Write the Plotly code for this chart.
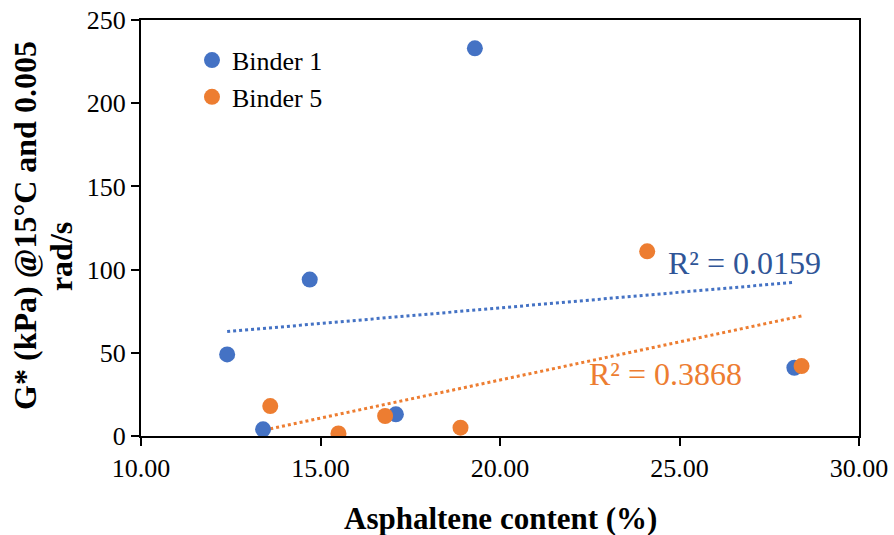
import numpy as np
import plotly.graph_objects as go

b1_x = [12.4, 13.4, 14.7, 17.1, 19.3, 28.2]
b1_y = [49, 4, 94, 13, 233, 41]
b5_x = [13.6, 15.5, 16.8, 18.9, 24.1, 28.4]
b5_y = [18, 1.5, 12, 5, 111, 42]
r2_labels = ["R² = 0.0159", "R² = 0.3868"]
y_title_lines = ["G* (kPa) @15°C and 0.005", "rad/s"]
x_title = "Asphaltene content (%)"

BLUE = "#4472C4"
ORANGE = "#ED7D31"
FONT = "Liberation Serif"

fig = go.Figure()

def trend(xs, ys):
    m, c = np.polyfit(xs, ys, 1)
    xx = np.array([min(xs), max(xs)])
    return xx, m * xx + c

tx, ty = trend(b1_x, b1_y)
fig.add_trace(go.Scatter(x=tx, y=ty, mode="lines", line=dict(color=BLUE, width=3, dash="dot"),
                         showlegend=False, hoverinfo="skip"))
tx, ty = trend(b5_x, b5_y)
fig.add_trace(go.Scatter(x=tx, y=ty, mode="lines", line=dict(color=ORANGE, width=3, dash="dot"),
                         showlegend=False, hoverinfo="skip"))

fig.add_trace(go.Scatter(x=b1_x, y=b1_y, mode="markers", name="Binder 1",
                         marker=dict(color=BLUE, size=16)))
fig.add_trace(go.Scatter(x=b5_x, y=b5_y, mode="markers", name="Binder 5",
                         marker=dict(color=ORANGE, size=16)))

fig.add_annotation(x=26.82, y=104, text=r2_labels[0], showarrow=False,
                   font=dict(family=FONT, size=32, color="#2F5597"))
fig.add_annotation(x=24.6, y=37.5, text=r2_labels[1], showarrow=False,
                   font=dict(family=FONT, size=32, color=ORANGE))

# y-axis title (two lines, as in the reference)
fig.add_annotation(xref="paper", yref="paper", x=0, y=0.505, xshift=-116,
                   xanchor="center", yanchor="middle",
                   text="<b>" + y_title_lines[0] + "</b>", textangle=-90, showarrow=False,
                   font=dict(family=FONT, size=32, color="black"))
fig.add_annotation(xref="paper", yref="paper", x=0, y=0.43, xshift=-80,
                   xanchor="center", yanchor="middle",
                   text="<b>" + y_title_lines[1] + "</b>", textangle=-90, showarrow=False,
                   font=dict(family=FONT, size=32, color="black"))
# x-axis title
fig.add_annotation(xref="paper", yref="paper", x=0.5, y=0, yshift=-82,
                   xanchor="center", yanchor="middle",
                   text="<b>" + x_title + "</b>", showarrow=False,
                   font=dict(family=FONT, size=31, color="black"))

fig.update_layout(
    width=894, height=535,
    margin=dict(l=141, r=35, t=20, b=99, autoexpand=False),
    plot_bgcolor="white", paper_bgcolor="white",
    font=dict(family=FONT, size=26, color="black"),
    legend=dict(x=0.071, y=0.96, xanchor="left", yanchor="top",
                bgcolor="rgba(0,0,0,0)", font=dict(family=FONT, size=26),
                itemwidth=30, tracegroupgap=0),
    xaxis=dict(range=[10, 30], dtick=5, tickformat=".2f", showgrid=False, zeroline=False,
               showline=True, linecolor="black", linewidth=2, mirror=True,
               ticks="outside", ticklen=8, tickwidth=2, tickcolor="black"),
    yaxis=dict(range=[0, 250], dtick=50, showgrid=False, zeroline=False,
               showline=True, linecolor="black", linewidth=2, mirror=True,
               ticks="outside", ticklen=8, tickwidth=2, tickcolor="black"),
)

fig.write_html("out.html", config={"displayModeBar": False},
               post_script="document.body.style.margin='0px';")
